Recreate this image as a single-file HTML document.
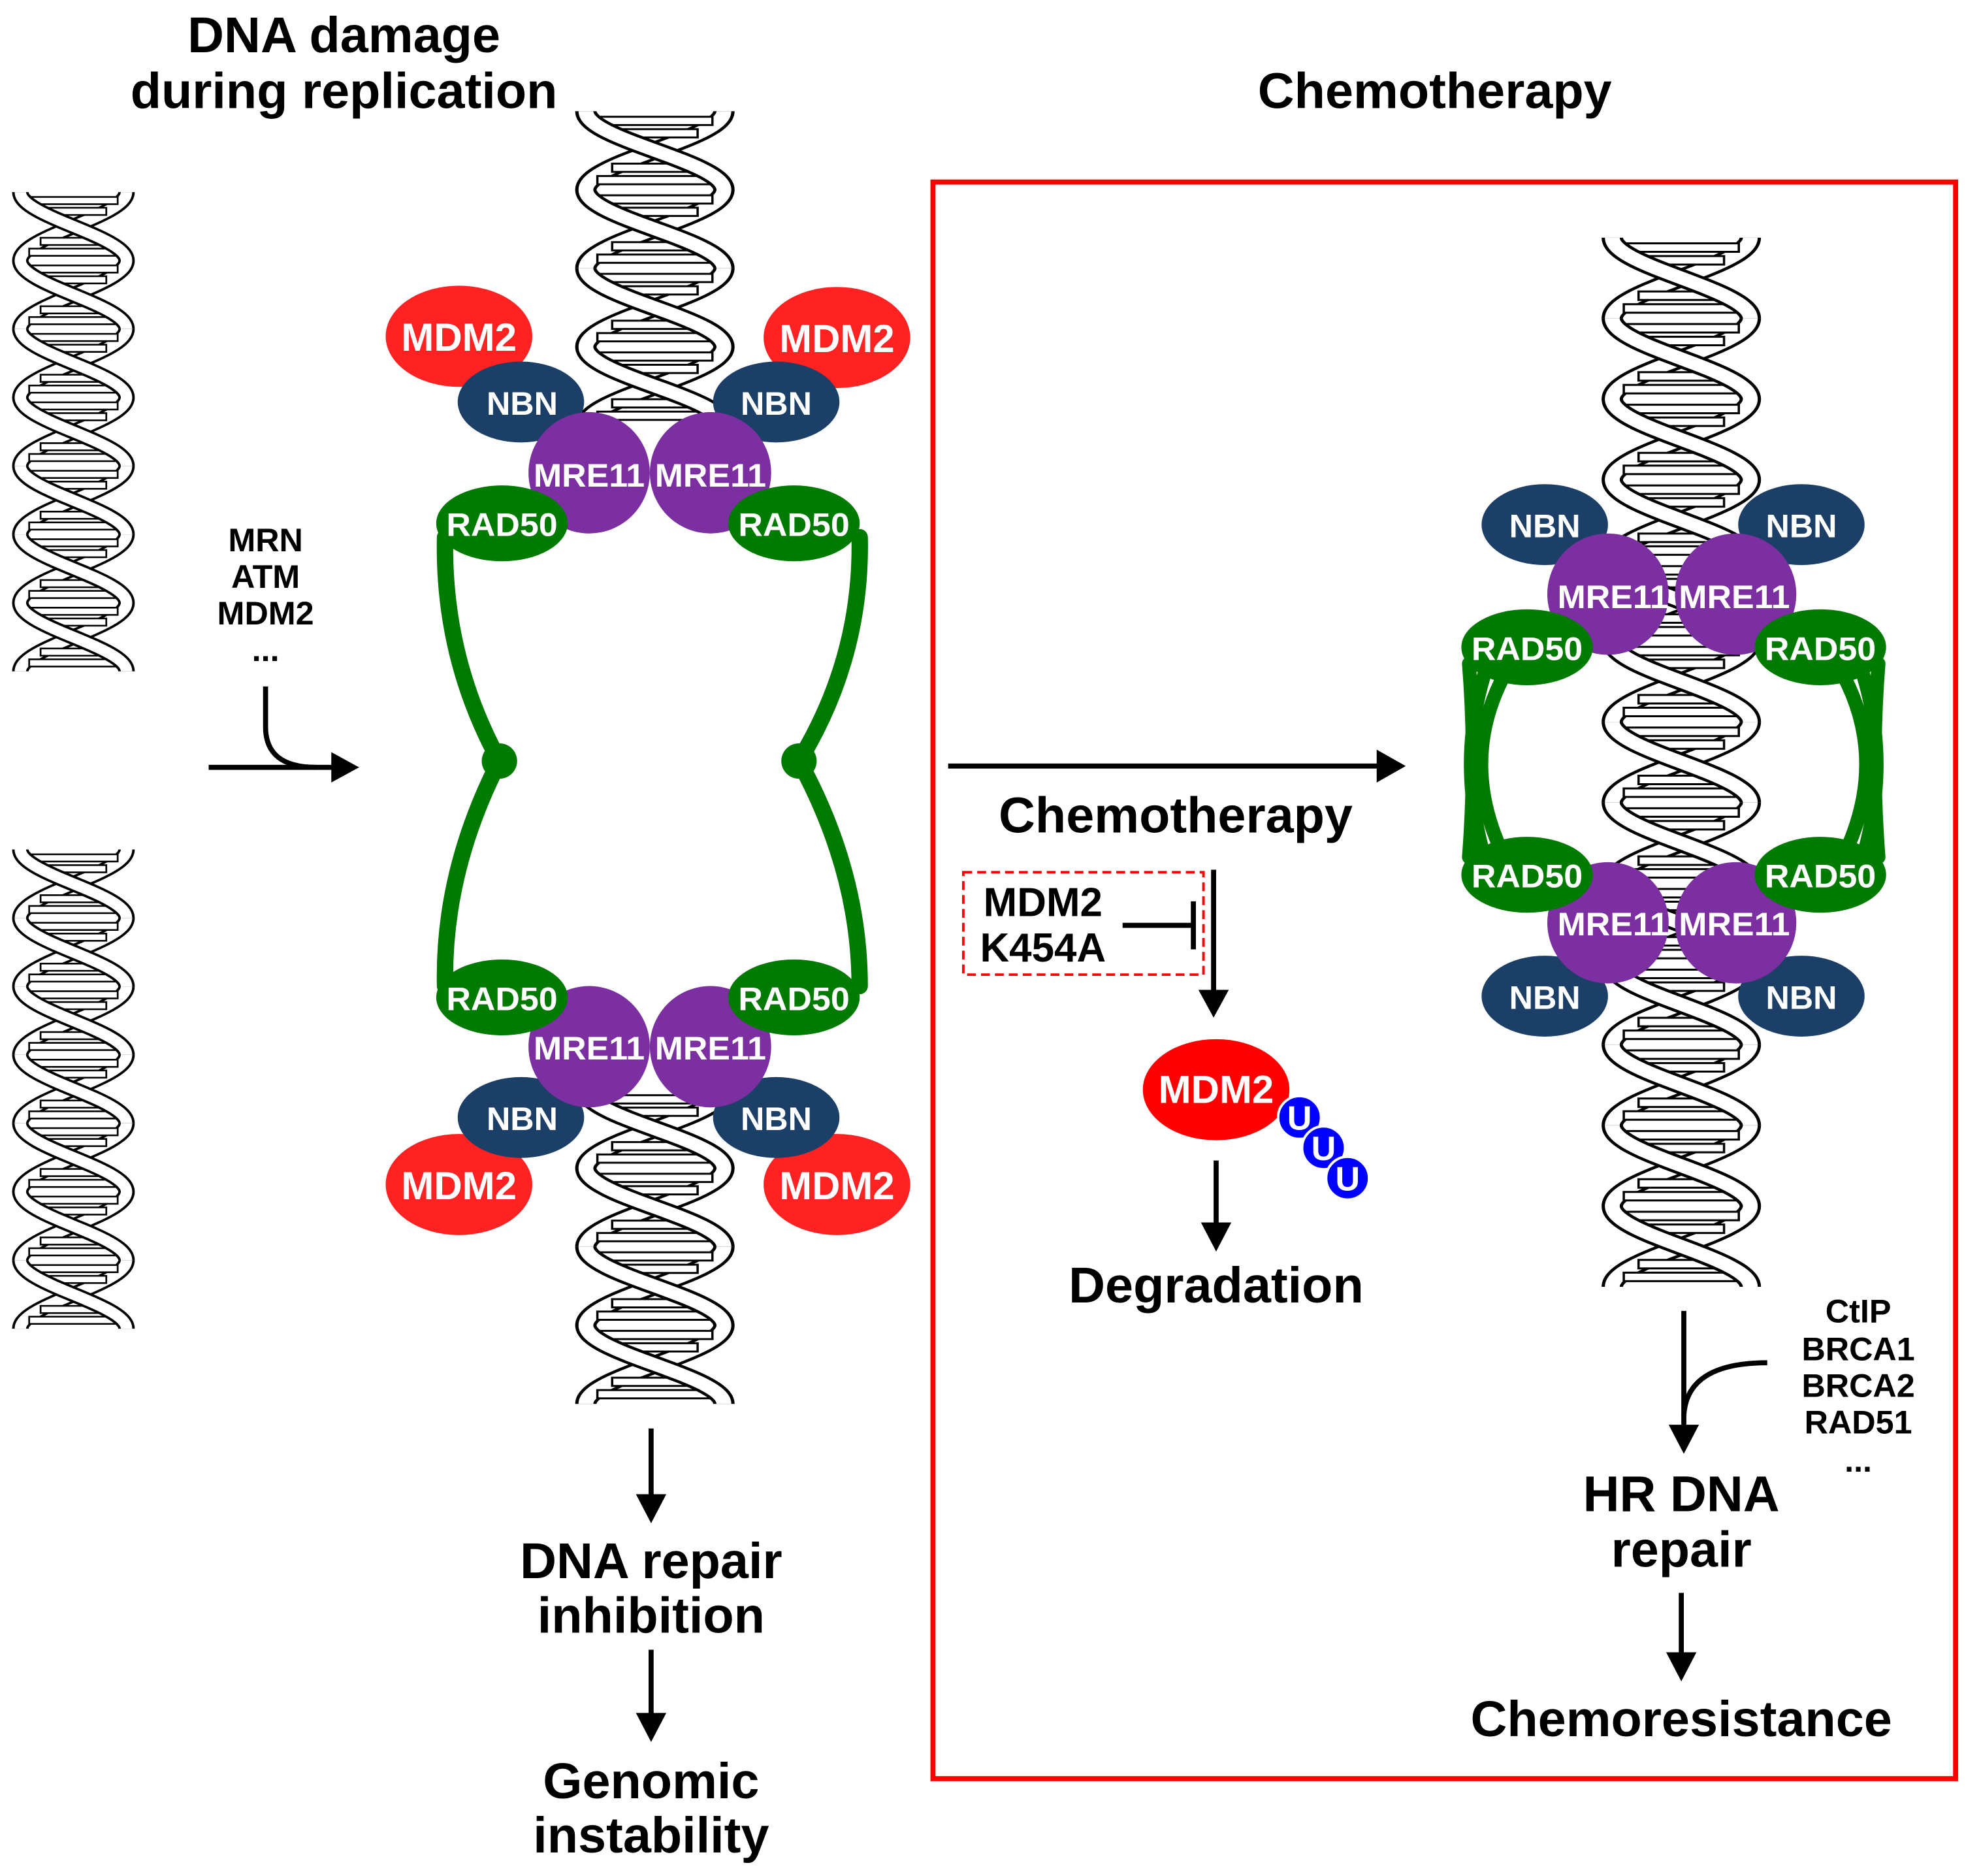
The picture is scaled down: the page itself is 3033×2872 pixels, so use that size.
<!DOCTYPE html>
<html><head><meta charset="utf-8">
<style>html,body{margin:0;padding:0;background:#fff}svg{display:block}
text{font-family:"Liberation Sans",Arial,sans-serif;font-weight:bold;text-anchor:middle;dominant-baseline:central}
.w{fill:#fff}</style>
</head><body>
<svg width="3033" height="2872" viewBox="0 0 1567 1484" xmlns="http://www.w3.org/2000/svg">
<defs>
<g id="hx">
<path d="M42,0 C42,20.5 -42,36.5 -42,57" fill="none" stroke="#000" stroke-width="13"/>
<path d="M42,0 C42,20.5 -42,36.5 -42,57" fill="none" stroke="#fff" stroke-width="9"/>
<g fill="#fff" stroke="#000" stroke-width="1.4">
<rect x="-35" y="4" width="70" height="6"/>
<rect x="-26" y="13" width="52" height="6"/>
<rect x="-26" y="38" width="52" height="6"/>
<rect x="-35" y="47" width="70" height="6"/>
</g>
<path d="M-42,0 C-42,20.5 42,36.5 42,57" fill="none" stroke="#000" stroke-width="13"/>
<path d="M-42,0 C-42,20.5 42,36.5 42,57" fill="none" stroke="#fff" stroke-width="9"/>
</g>
<g id="hxL">
<use href="#hx" y="0"/><use href="#hx" y="57"/><use href="#hx" y="114"/><use href="#hx" y="171"/><use href="#hx" y="228"/><use href="#hx" y="285"/><use href="#hx" y="342"/>
</g>
<g id="hxB">
<use href="#hx" y="0"/><use href="#hx" y="57"/><use href="#hx" y="114"/><use href="#hx" y="171"/>
</g>
</defs>

<!-- helices -->
<use href="#hxL" transform="translate(58,152) scale(1,0.95)"/>
<use href="#hxL" transform="translate(58,672) scale(1,0.95)"/>
<use href="#hxB" transform="translate(518,88) scale(1.3,1.09)"/>
<use href="#hxB" transform="translate(518,862) scale(1.3,1.09)"/>
<g transform="translate(1330,188) scale(1.3,1.12)">
<use href="#hxL" y="0"/><use href="#hxB" y="399"/><use href="#hx" y="627"/><use href="#hx" y="684"/>
</g>

<!-- red box -->
<rect x="738" y="144" width="809" height="1263" fill="none" stroke="#f00" stroke-width="4"/>
<!-- titles -->
<text x="272" y="28" font-size="40">DNA damage</text>
<text x="272" y="72" font-size="40">during replication</text>
<text x="1135" y="72" font-size="40">Chemotherapy</text>
<text x="210" y="427" font-size="26">MRN</text>
<text x="210" y="456" font-size="26">ATM</text>
<text x="210" y="485" font-size="26">MDM2</text>
<text x="210" y="514" font-size="26">...</text>
<path d="M165,607 L266,607" stroke="#000" stroke-width="4" fill="none"/>
<path d="M262,595 L284,607 L262,619 Z"/>
<path d="M210,543 L210,575 Q210,607 250,607" stroke="#000" stroke-width="4" fill="none"/>

<!-- left green arms -->
<g stroke="#007a00" stroke-width="13" fill="none" stroke-linecap="round">
<path d="M352,425 Q350,520 395,602 Q350,690 352,780"/>
<path d="M680,425 Q682,520 632,602 Q680,690 680,780"/>
</g>
<circle cx="395" cy="602" r="14" fill="#007a00"/>
<circle cx="632" cy="602" r="14" fill="#007a00"/>

<!-- left complex -->
<g>
<ellipse cx="363" cy="266" rx="58" ry="40" fill="#f22"/>
<ellipse cx="662" cy="267" rx="58" ry="40" fill="#f22"/>
<ellipse cx="412" cy="318" rx="50" ry="32" fill="#1b3f66"/>
<ellipse cx="614" cy="318" rx="50" ry="32" fill="#1b3f66"/>
<circle cx="466" cy="374" r="48" fill="#7b2fa0"/>
<circle cx="562" cy="374" r="48" fill="#7b2fa0"/>
<ellipse cx="397" cy="414" rx="52" ry="30" fill="#007a00"/>
<ellipse cx="628" cy="414" rx="52" ry="30" fill="#007a00"/>
<ellipse cx="363" cy="937" rx="58" ry="40" fill="#f22"/>
<ellipse cx="662" cy="937" rx="58" ry="40" fill="#f22"/>
<ellipse cx="412" cy="884" rx="50" ry="32" fill="#1b3f66"/>
<ellipse cx="614" cy="884" rx="50" ry="32" fill="#1b3f66"/>
<circle cx="466" cy="828" r="48" fill="#7b2fa0"/>
<circle cx="562" cy="828" r="48" fill="#7b2fa0"/>
<ellipse cx="397" cy="789" rx="52" ry="30" fill="#007a00"/>
<ellipse cx="628" cy="789" rx="52" ry="30" fill="#007a00"/>
<g class="w" font-size="26">
<text x="363" y="267" font-size="31" class="w">MDM2</text>
<text x="662" y="268" font-size="31" class="w">MDM2</text>
<text x="413" y="319" class="w">NBN</text>
<text x="614" y="319" class="w">NBN</text>
<text x="466" y="376" class="w" textLength="88" lengthAdjust="spacingAndGlyphs">MRE11</text>
<text x="562" y="376" class="w" textLength="88" lengthAdjust="spacingAndGlyphs">MRE11</text>
<text x="397" y="415" class="w" textLength="88" lengthAdjust="spacingAndGlyphs">RAD50</text>
<text x="628" y="415" class="w" textLength="88" lengthAdjust="spacingAndGlyphs">RAD50</text>
<text x="363" y="938" font-size="31" class="w">MDM2</text>
<text x="662" y="938" font-size="31" class="w">MDM2</text>
<text x="413" y="885" class="w">NBN</text>
<text x="614" y="885" class="w">NBN</text>
<text x="466" y="829" class="w" textLength="88" lengthAdjust="spacingAndGlyphs">MRE11</text>
<text x="562" y="829" class="w" textLength="88" lengthAdjust="spacingAndGlyphs">MRE11</text>
<text x="397" y="790" class="w" textLength="88" lengthAdjust="spacingAndGlyphs">RAD50</text>
<text x="628" y="790" class="w" textLength="88" lengthAdjust="spacingAndGlyphs">RAD50</text>
</g>
</g>

<path d="M515,1130 L515,1185" stroke="#000" stroke-width="4"/><path d="M503,1182 L515,1205 L527,1182 Z"/>
<text x="515" y="1235" font-size="40">DNA repair</text>
<text x="515" y="1278" font-size="40">inhibition</text>
<path d="M515,1305 L515,1358" stroke="#000" stroke-width="4"/><path d="M503,1355 L515,1378 L527,1355 Z"/>
<text x="515" y="1409" font-size="40">Genomic</text>
<text x="515" y="1452" font-size="40">instability</text>

<!-- right section -->
<path d="M750,606 L1092,606" stroke="#000" stroke-width="4"/><path d="M1089,593 L1112,606 L1089,619 Z"/>
<text x="930" y="645" font-size="40">Chemotherapy</text>
<path d="M960,688 L960,786" stroke="#000" stroke-width="4"/><path d="M948,783 L960,805 L972,783 Z"/>
<rect x="762" y="690" width="190" height="81" fill="none" stroke="#f00" stroke-width="2" stroke-dasharray="7,4"/>
<text x="825" y="714" font-size="32">MDM2</text>
<text x="825" y="750" font-size="32">K454A</text>
<path d="M888,732 L944,732 M944,713 L944,751" stroke="#000" stroke-width="4"/>
<ellipse cx="962" cy="862" rx="58" ry="40" fill="#f00"/>
<text x="962" y="862" font-size="31" class="w">MDM2</text>
<g fill="#00f" stroke="#fff" stroke-width="2">
<circle cx="1028" cy="884" r="17"/><circle cx="1047" cy="908" r="17"/><circle cx="1066" cy="932" r="17"/>
</g>
<text x="1028" y="885" font-size="27" class="w">U</text>
<text x="1047" y="909" font-size="27" class="w">U</text>
<text x="1066" y="933" font-size="27" class="w">U</text>
<path d="M962,918 L962,970" stroke="#000" stroke-width="4"/><path d="M950,967 L962,990 L974,967 Z"/>
<text x="962" y="1017" font-size="40">Degradation</text>

<!-- right green arms -->
<g stroke="#007a00" stroke-width="11" fill="none" stroke-linecap="round">
<path d="M1195,525 Q1150,600 1192,682"/>
<path d="M1178,522 Q1150,600 1176,684"/>
<path d="M1162,525 Q1168,600 1162,678"/>
<path d="M1453,525 Q1498,600 1456,682"/>
<path d="M1470,522 Q1498,600 1472,684"/>
<path d="M1486,525 Q1480,600 1486,678"/>
</g>
<g>
<ellipse cx="1222" cy="415" rx="50" ry="32" fill="#1b3f66"/>
<ellipse cx="1425" cy="415" rx="50" ry="32" fill="#1b3f66"/>
<circle cx="1272" cy="470" r="48" fill="#7b2fa0"/>
<circle cx="1373" cy="470" r="48" fill="#7b2fa0"/>
<ellipse cx="1208" cy="512" rx="52" ry="30" fill="#007a00"/>
<ellipse cx="1440" cy="512" rx="52" ry="30" fill="#007a00"/>
<ellipse cx="1222" cy="788" rx="50" ry="32" fill="#1b3f66"/>
<ellipse cx="1425" cy="788" rx="50" ry="32" fill="#1b3f66"/>
<circle cx="1272" cy="730" r="48" fill="#7b2fa0"/>
<circle cx="1373" cy="730" r="48" fill="#7b2fa0"/>
<ellipse cx="1208" cy="692" rx="52" ry="30" fill="#007a00"/>
<ellipse cx="1440" cy="692" rx="52" ry="30" fill="#007a00"/>
<g font-size="26">
<text x="1222" y="416" class="w">NBN</text>
<text x="1425" y="416" class="w">NBN</text>
<text x="1276" y="472" class="w" textLength="88" lengthAdjust="spacingAndGlyphs">MRE11</text>
<text x="1372" y="472" class="w" textLength="88" lengthAdjust="spacingAndGlyphs">MRE11</text>
<text x="1208" y="513" class="w" textLength="88" lengthAdjust="spacingAndGlyphs">RAD50</text>
<text x="1440" y="513" class="w" textLength="88" lengthAdjust="spacingAndGlyphs">RAD50</text>
<text x="1222" y="789" class="w">NBN</text>
<text x="1425" y="789" class="w">NBN</text>
<text x="1276" y="731" class="w" textLength="88" lengthAdjust="spacingAndGlyphs">MRE11</text>
<text x="1372" y="731" class="w" textLength="88" lengthAdjust="spacingAndGlyphs">MRE11</text>
<text x="1208" y="693" class="w" textLength="88" lengthAdjust="spacingAndGlyphs">RAD50</text>
<text x="1440" y="693" class="w" textLength="88" lengthAdjust="spacingAndGlyphs">RAD50</text>
</g>
</g>

<path d="M1332,1037 L1332,1130" stroke="#000" stroke-width="4"/><path d="M1320,1127 L1332,1150 L1344,1127 Z"/>
<path d="M1398,1078 Q1334,1078 1332,1120" stroke="#000" stroke-width="4" fill="none"/>
<text x="1470" y="1037" font-size="26">CtIP</text>
<text x="1470" y="1067" font-size="26">BRCA1</text>
<text x="1470" y="1096" font-size="26">BRCA2</text>
<text x="1470" y="1125" font-size="26">RAD51</text>
<text x="1470" y="1155" font-size="26">...</text>
<text x="1330" y="1182" font-size="40">HR DNA</text>
<text x="1330" y="1226" font-size="40">repair</text>
<path d="M1330,1260 L1330,1310" stroke="#000" stroke-width="4"/><path d="M1318,1307 L1330,1330 L1342,1307 Z"/>
<text x="1330" y="1360" font-size="40">Chemoresistance</text>
</svg>
</body></html>
